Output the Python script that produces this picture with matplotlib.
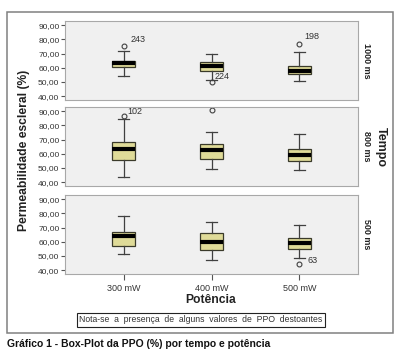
import matplotlib
matplotlib.use("Agg")
import matplotlib.pyplot as plt
from matplotlib.patches import Rectangle

plt.rcParams["font.family"] = ["Liberation Sans", "DejaVu Sans"]

W, H = 398, 359

POTENCIAS = ["300 mW", "400 mW", "500 mW"]
TEMPOS = ["1000 ms", "800 ms", "500 ms"]

# (whislo, q1, med, q3, whishi) per potência, one list per tempo
BOX_1000 = [(53.9, 60.4, 63.1, 65.0, 71.5), (51.2, 57.8, 61.1, 64.3, 69.6), (50.4, 55.3, 58.0, 61.5, 70.8)]
BOX_800 = [(43.7, 55.9, 63.2, 68.0, 84.4), (49.0, 56.3, 62.7, 66.8, 75.4), (48.5, 55.1, 59.5, 63.2, 74.1)]
BOX_500 = [(51.3, 57.2, 63.8, 67.1, 78.0), (47.1, 54.4, 60.0, 65.9, 73.7), (48.3, 54.8, 59.5, 62.4, 71.8)]

FLIERS_1000 = [[75.4], [50.3], [77.0]]
FLIERS_800 = [[86.8], [90.6], []]
FLIERS_500 = [[], [], [44.3]]

# outlier ids: (potência index, value, label)
IDS_1000 = [(0, 75.4, "243"), (1, 50.3, "224"), (2, 77.0, "198")]
IDS_800 = [(0, 86.8, "102"), (1, 90.6, "107")]
IDS_500 = [(2, 44.3, "63")]

Y_TICKS = [40, 50, 60, 70, 80, 90]

panels = [(BOX_1000, FLIERS_1000, IDS_1000, 21, 100),
          (BOX_800, FLIERS_800, IDS_800, 107, 186),
          (BOX_500, FLIERS_500, IDS_500, 195, 274)]

# label offsets in pixels (dx, dy up)
offs = {"243": (7, 6), "224": (3, 5), "198": (5, 7), "102": (4, 4), "107": (6, 8), "63": (8, 4)}

fig = plt.figure(figsize=(W / 100, H / 100), dpi=100)

# outer frame
fig.patches.append(Rectangle((7 / W, 1 - 333 / H), 386 / W, 321 / H, transform=fig.transFigure,
                             fill=False, ec="#808080", lw=1.1))

for k, (boxes, fliers, ids, top, bot) in enumerate(panels):
    ax = fig.add_axes([65 / W, 1 - bot / H, 293 / W, (bot - top) / H])
    ax.set_facecolor("#f0f0f0")
    stats = [dict(whislo=b[0], q1=b[1], med=b[2], q3=b[3], whishi=b[4], fliers=f)
             for b, f in zip(boxes, fliers)]
    ax.bxp(stats, positions=[1, 2, 3], widths=0.26, capwidths=0.125, patch_artist=True,
           boxprops=dict(facecolor="#dfdb98", edgecolor="#3a3a2a", lw=0.9),
           medianprops=dict(color="black", lw=3, solid_capstyle="butt"),
           whiskerprops=dict(color="#404040", lw=0.9),
           capprops=dict(color="#404040", lw=0.9),
           flierprops=dict(marker="o", ms=3.5, mfc="none", mec="#404040", mew=0.8))
    for i, v, lab in ids:
        dx, dy = offs[lab]
        ax.annotate(lab, (i + 1, v), xytext=(dx * 0.72, dy * 0.72), textcoords="offset points",
                    fontsize=6.5, color="#333333", ha="left", va="center",
                    annotation_clip=False, clip_on=True)
    ax.set_xlim(0.333, 3.667)
    ax.set_ylim(37.3, 93)
    ax.set_yticks(Y_TICKS)
    ax.set_yticklabels([f"{t:.2f}".replace(".", ",") for t in Y_TICKS], fontsize=6, color="#333333")
    ax.tick_params(axis="y", length=3, width=0.8, color="#555555", pad=1)
    for s in ax.spines.values():
        s.set_color("#a8a8a8")
        s.set_linewidth(0.8)
    if k < 2:
        ax.set_xticks([])
    else:
        ax.set_xticks([1, 2, 3])
        ax.set_xticklabels(POTENCIAS, fontsize=6.5, color="#333333")
        ax.tick_params(axis="x", length=4, width=0.8, color="#555555", pad=3)
    fig.text(367 / W, 1 - (top + bot) / 2 / H, TEMPOS[k], rotation=270, ha="center", va="center",
             fontsize=6.5, fontweight="bold", color="#222222")

fig.text(24 / W, 1 - 150 / H, "Permeabilidade escleral (%)", rotation=90, ha="center", va="center",
         fontsize=8.7, fontweight="bold", color="#222222")
fig.text(381 / W, 1 - 147 / H, "Tempo", rotation=270, ha="center", va="center",
         fontsize=9, fontweight="bold", color="#222222")
fig.text(211 / W, 1 - 300 / H, "Potência", ha="center", va="center",
         fontsize=8.7, fontweight="bold", color="#222222")
fig.text(201 / W, 1 - 320 / H, "Nota-se  a  presença  de  alguns  valores  de  PPO  destoantes",
         ha="center", va="center", fontsize=6.2, color="#333333",
         bbox=dict(boxstyle="square,pad=0.3", fc="white", ec="#222222", lw=0.8))
fig.text(7 / W, 1 - 344 / H, "Gráfico 1 - Box-Plot da PPO (%) por tempo e potência",
         ha="left", va="center", fontsize=7.5, fontweight="bold", color="#111111")

fig.savefig("out.png", dpi=100)
